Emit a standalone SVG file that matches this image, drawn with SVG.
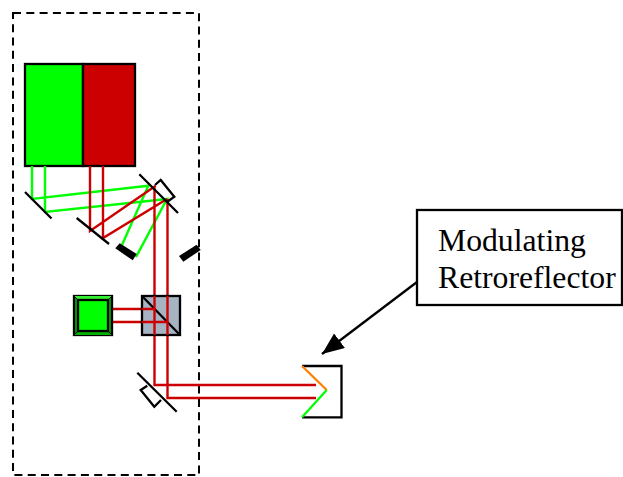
<svg xmlns="http://www.w3.org/2000/svg" width="623" height="477" viewBox="0 0 623 477">
<style>
.k{fill:none;stroke:#000;stroke-width:2.300;stroke-linejoin:miter}
.r{fill:none;stroke:#cc0000;stroke-width:2.400}
.g{fill:none;stroke:#00ff00;stroke-width:2.400}
.b{fill:#000;stroke:none}
.t{font-family:"Liberation Serif","Times New Roman",serif;font-size:31.7px;fill:#000}
</style>
<defs><marker id="ah" markerUnits="userSpaceOnUse" markerWidth="24" markerHeight="20" refX="22" refY="9" orient="auto"><path d="M0 0L22 9L0 18z" fill="#000"/></marker></defs>
<rect width="623" height="477" fill="#fff"/>
<g id="enclosure"><rect x="13" y="13" width="186" height="462" fill="none" stroke="#000" stroke-width="2" stroke-dasharray="8 5.300"/></g>
<g id="laser-green"><rect x="25" y="64" width="58" height="102" fill="#00ff00" stroke="#000" stroke-width="2.300"/></g>
<g id="laser-red"><rect x="83" y="64" width="52" height="102" fill="#cc0000" stroke="#000" stroke-width="2.300"/></g>
<g id="connectors">
<path class="g" d="M32 166V199L148.300 185.700L122 245M45 166V212L167 199L136 257"/>
<path class="r" d="M90 166V231L155.700 185.700M103 166V238L167 199M154.500 186V385H316M167.500 199V398H316M112 309H154.500M112 322H167.500"/>
<path d="M417 282L322 354" fill="none" stroke="#000" stroke-width="2.300" marker-end="url(#ah)"/>
</g>
<g id="mirror-green"><path class="k" d="M25 192L51.500 218.500"/></g>
<g id="mirror-red"><path class="k" d="M76.700 218L109 244"/></g>
<g id="mirror-top"><path class="k" d="M139.300 174.300L178 213M155 185L160.700 180L174.300 196.700L167.300 201.700"/></g>
<g id="block-left"><path class="b" d="M115.300 248.300L119.700 243.300L136.700 254L132.700 260.300z"/></g>
<g id="block-right"><path class="b" d="M179 256L196.700 244.700L200.700 250L183.300 261.700z"/></g>
<g id="detector"><rect x="74" y="296" width="38" height="39" fill="#00b000" stroke="#000" stroke-width="2.300"/><path d="M74 296H112L108 300H78z" fill="#33ee33"/><path d="M74 335H112L108 331H78z" fill="#00b000"/><rect x="78" y="300" width="30" height="31" fill="#00ff00" stroke="#000" stroke-width="2.300"/><path d="M74 296L78 300M112 296L108 300M74 335L78 331M112 335L108 331" stroke="#000" fill="none"/></g>
<g id="beamsplitter"><rect x="142" y="296" width="38" height="39" fill="#a6b3c2" stroke="#000" stroke-width="2.300"/><path class="k" d="M142 296L180 335"/><path class="r" d="M154.500 296V335M167.500 296V335M142 309H154.500M142 322H167.500"/></g>
<g id="mirror-bottom"><path class="k" d="M137.300 372.700L176.700 411.700M147.300 385.700L140.700 390L154.300 406.700L161 400"/></g>
<g id="retroreflector"><path class="k" d="M302 366H341.500V417.300H302"/><path d="M302 366L326.700 390" fill="none" stroke="#ff8000" stroke-width="2.300"/><path d="M326.700 390L302 417.300" fill="none" stroke="#00ff00" stroke-width="2.300"/></g>
<g id="callout"><rect x="417" y="210" width="205" height="95" fill="#fff" stroke="#000" stroke-width="2.300"/><text class="t" x="438" y="251">Modulating</text><text class="t" x="438" y="288">Retroreflector</text></g>
</svg>
